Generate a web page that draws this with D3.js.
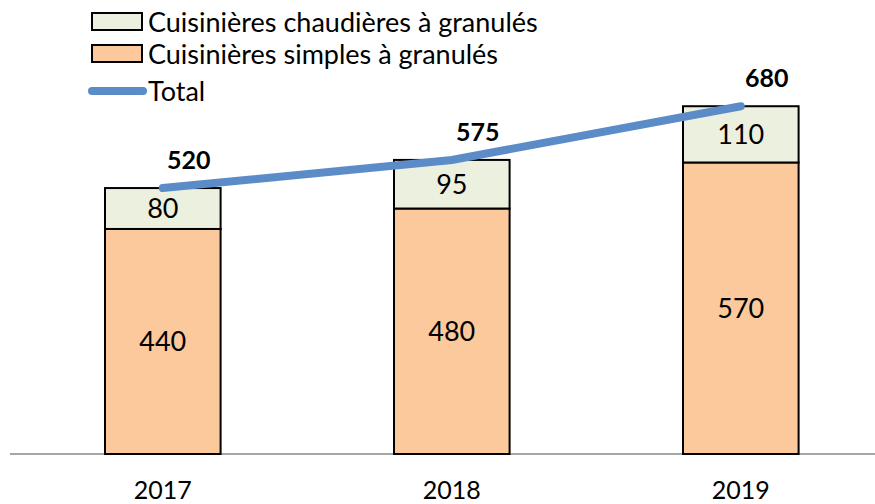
<!DOCTYPE html>
<html><head><meta charset="utf-8">
<script src="https://cdn.jsdelivr.net/npm/d3@7"></script>
<style>body{margin:0;background:#fff}svg{display:block;font-family:Lato,"Open Sans",sans-serif}</style>
</head><body><svg id="c" width="875" height="504"></svg>
<script>
const years = ["2017","2018","2019"];
const simples = [440,480,570];
const chaudieres = [80,95,110];
const totals = [520,575,680];
const seriesNames = ["Cuisinières chaudières à granulés","Cuisinières simples à granulés","Total"];
const colors = {chaud:"#EBF1DE", simple:"#FBC99C", line:"#5B8CC8"};

const svg = d3.select("#c");
const x = d3.scaleBand().domain(years).range([105,798.6]).paddingInner(0.6).paddingOuter(0);
const y = d3.scaleLinear().domain([0,700]).range([454,96]);

// axis line
svg.append("line").attr("x1",10).attr("x2",875).attr("y1",y(0)).attr("y2",y(0))
  .attr("stroke","#A6A6A6").attr("stroke-width",2);

const g = svg.append("g");
years.forEach((yr,i)=>{
  const x0 = x(yr), w = x.bandwidth();
  g.append("rect").attr("x",x0).attr("y",y(simples[i])).attr("width",w).attr("height",y(0)-y(simples[i]))
    .attr("fill",colors.simple).attr("stroke","#000").attr("stroke-width",2);
  g.append("rect").attr("x",x0).attr("y",y(simples[i]+chaudieres[i])).attr("width",w)
    .attr("height",y(simples[i])-y(simples[i]+chaudieres[i]))
    .attr("fill",colors.chaud).attr("stroke","#000").attr("stroke-width",2);
  g.append("text").attr("x",x0+w/2).attr("y",(y(0)+y(simples[i]))/2).attr("dy","0.36em")
    .attr("text-anchor","middle").attr("font-size",27).text(simples[i]);
  g.append("text").attr("x",x0+w/2).attr("y",(y(simples[i])+y(simples[i]+chaudieres[i]))/2).attr("dy","0.36em")
    .attr("text-anchor","middle").attr("font-size",27).text(chaudieres[i]);
  svg.append("text").attr("x",x0+w/2).attr("y",y(0)+45).attr("text-anchor","middle")
    .attr("font-size",25).text(yr);
});

const line = d3.line().x((d,i)=>x(years[i])+x.bandwidth()/2).y(d=>y(d));
svg.append("path").datum(totals).attr("d",line).attr("fill","none")
  .attr("stroke",colors.line).attr("stroke-width",8).attr("stroke-linecap","round");
totals.forEach((t,i)=>{
  svg.append("text").attr("x",x(years[i])+x.bandwidth()/2+26).attr("y",y(t)-19)
    .attr("text-anchor","middle").attr("font-size",25).attr("font-weight","bold").text(t);
});

// legend
const lg = svg.append("g");
lg.append("rect").attr("x",92).attr("y",13).attr("width",50).attr("height",17)
  .attr("fill",colors.chaud).attr("stroke","#000").attr("stroke-width",2);
lg.append("rect").attr("x",92).attr("y",45).attr("width",50).attr("height",17)
  .attr("fill",colors.simple).attr("stroke","#000").attr("stroke-width",2);
lg.append("line").attr("x1",92).attr("x2",143).attr("y1",91).attr("y2",91)
  .attr("stroke",colors.line).attr("stroke-width",8).attr("stroke-linecap","round");
[32,64,101].forEach((yy,i)=>{
  lg.append("text").attr("x",148).attr("y",yy).attr("font-size",27).text(seriesNames[i]);
});
</script></body></html>
